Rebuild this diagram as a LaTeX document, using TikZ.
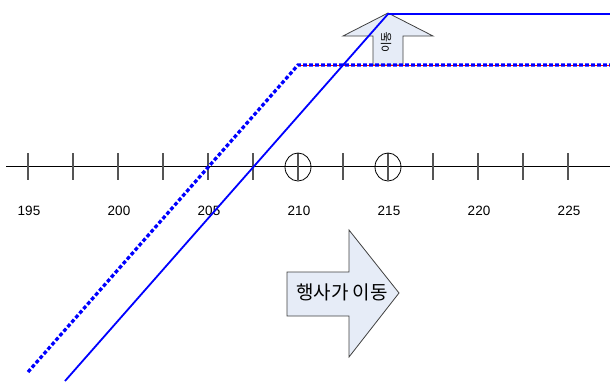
\documentclass[tikz,border=0pt]{standalone}
\usepackage{fontspec}
\setmainfont{Liberation Sans}
\newfontfamily\krfont{Noto Sans CJK KR}
\definecolor{arrowfill}{RGB}{230,236,247}
\definecolor{tickgray}{RGB}{85,85,85}
\begin{document}
\begin{tikzpicture}[x=1pt,y=-1pt,
  axistick/.style={draw=tickgray, line width=1.2pt},
  numlabel/.style={font=\fontsize{13.5}{16}\selectfont, inner sep=0pt},
  arrowshape/.style={draw=black!75, fill=arrowfill, line width=0.8pt, line join=miter},
  solidline/.style={draw=blue, line width=1.8pt},
  dotline/.style={draw=blue, line width=3.3pt, dash pattern=on 3.8pt off 2.2pt},
]
\useasboundingbox (0,0) rectangle (610,381);
\clip (0,0) rectangle (610,381);

% axis
\coordinate (axL) at (6,166);
\coordinate (axR) at (610,166);
\draw[black, line width=1pt] (axL) -- (axR);
\foreach \i in {0,...,12}{
  \coordinate (t\i a) at (28+45*\i,153);
  \coordinate (t\i b) at (28+45*\i,180);
  \draw[axistick] (t\i a) -- (t\i b);
}
\draw[black, line width=0.8pt] (298,167) ellipse [x radius=13, y radius=14];
\draw[black, line width=0.8pt] (388,167) ellipse [x radius=13, y radius=14];

% labels
\foreach \v/\k in {195/0,200/1,205/2,210/3,215/4,220/5,225/6}{
  \node[numlabel] (lab\v) at (29+90*\k,211) {\v};
}

% up arrow
\path[arrowshape] (388,13) -- (433,36) -- (403,36) -- (403,65) -- (373,65) -- (373,36) -- (343,36) -- cycle;
\node[font=\krfont\fontsize{11.5}{13}\selectfont, rotate=90, inner sep=0pt] (uptext) at (386,42) {이동};

% right arrow
\path[arrowshape] (287,272) -- (349,272) -- (349,230) -- (399,293) -- (349,357) -- (349,316) -- (287,316) -- cycle;
\node[font=\krfont\fontsize{19}{22}\selectfont, inner sep=0pt] (righttext) at (342,292) {행사가 이동};

% lines
\coordinate (dA) at (28,372);
\coordinate (dB) at (298,65);
\coordinate (dC) at (612,65);
\coordinate (sA) at (65,381);
\coordinate (sB) at (388,14);
\coordinate (sC) at (612,14);
\draw[red, line width=0.6pt] (dB) -- (dC);
\draw[dotline] (dA) -- (dB) -- (dC);
\draw[solidline] (sA) -- (sB) -- (sC);
\end{tikzpicture}
\end{document}
